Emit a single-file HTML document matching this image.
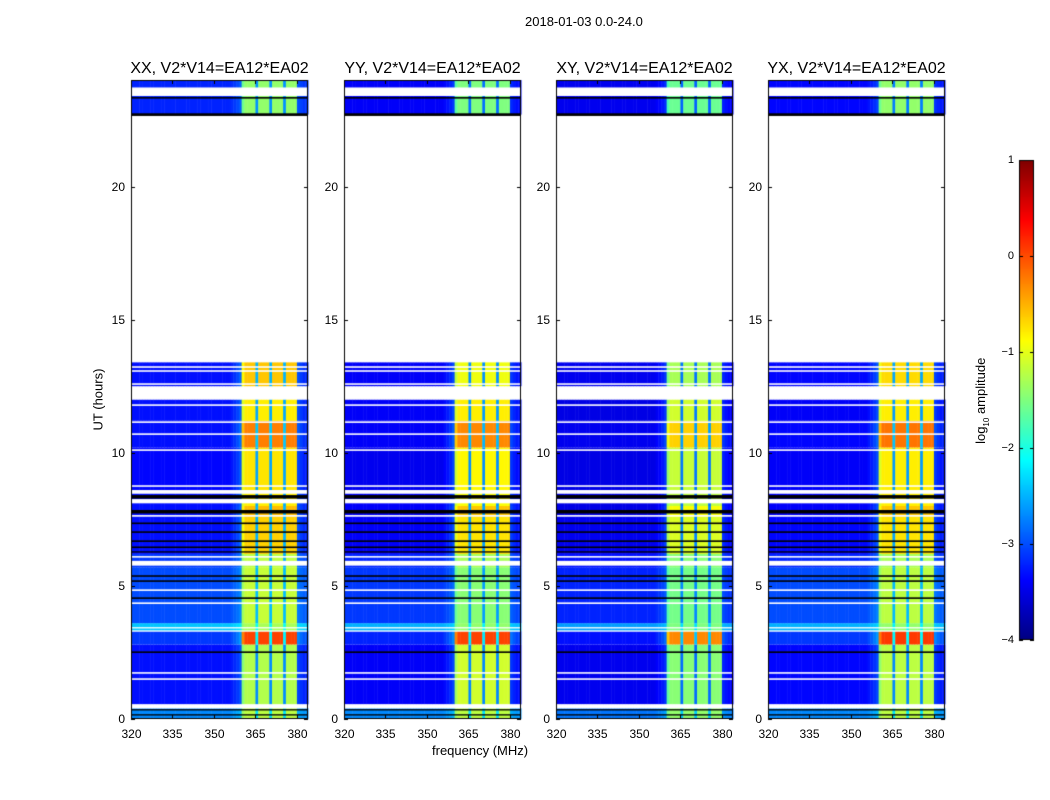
<!DOCTYPE html>
<html><head><meta charset="utf-8">
<style>
body{margin:0;background:#fff;width:1050px;height:800px;position:relative;font-family:"Liberation Sans","DejaVu Sans",sans-serif;overflow:hidden}
.t{position:absolute;white-space:nowrap;color:#000}
canvas{position:absolute;left:0;top:0}
</style></head><body>
<canvas id="c" width="1050" height="800"></canvas>
<div class="t" style="left:525px;top:14px;font-size:13px">2018-01-03 0.0-24.0</div>
<div class="t" style="left:432px;top:743px;font-size:13px">frequency (MHz)</div>
<div class="t" style="left:58px;top:392px;font-size:13px;transform:rotate(-90deg);width:80px;text-align:center">UT (hours)</div>
<div class="t" style="left:932px;top:392px;font-size:13px;transform:rotate(-90deg);width:100px;text-align:center">log<sub style="font-size:8px">10</sub> amplitude</div>
<div id="labels"></div>
<script>
// ---- data ----
const panelNames = ["XX, V2*V14=EA12*EA02","YY, V2*V14=EA12*EA02","XY, V2*V14=EA12*EA02","YX, V2*V14=EA12*EA02"];
const freqStart = 320, freqStep = 1;
// in-band weighting per 1 MHz channel (320..383)
const bandProfile = [0,0,0,0,0,0,0,0,0,0, 0,0,0,0,0,0,0,0,0,0, 0,0,0,0,0,0,0,0,0,0, 0,0,0,0,0,0,0.03,0.06,0.1,0.15,
  0.9,1,1,1,1,0.3,1,1,1,1, 0.3,1,1,1,1,0.3,1,1,1,1, 0.12,0.08,0.05,0.05];
// time blocks [startHour, endHour]
const blockStart = [0, 0.55, 2.8, 3.3, 3.6, 5.7, 6.2, 7.6, 8.0, 8.6, 10.2, 11.2, 12.5, 22.7];
const blockEnd   = [0.4, 2.8, 3.3, 3.6, 5.7, 6.2, 7.6, 8.0, 8.6, 10.2, 11.2, 12.0, 13.4, 24];
const bgXX = [-2.7,-3.3,-3.1,-2.4,-3.0,-3.1,-3.3,-3.3,-3.3,-3.35,-3.3,-3.3,-3.3,-3.2];
const bgYY = [-2.7,-3.4,-3.2,-2.5,-3.1,-3.2,-3.4,-3.4,-3.4,-3.45,-3.4,-3.4,-3.4,-3.4];
const bgXY = [-2.8,-3.45,-3.3,-2.6,-3.2,-3.3,-3.45,-3.5,-3.5,-3.5,-3.45,-3.5,-3.45,-3.45];
const bgYX = [-2.7,-3.35,-3.1,-2.5,-3.0,-3.2,-3.35,-3.4,-3.4,-3.4,-3.35,-3.4,-3.35,-3.35];
const bandXX = [-1.2,-1.25,0.05,-1.3,-1.15,-1.2,-0.65,-0.55,-0.8,-0.75,-0.25,-0.8,-0.6,-1.4];
const bandYY = [-1.2,-1.1,0.05,-1.4,-1.45,-1.3,-0.75,-0.6,-0.9,-0.85,-0.3,-0.8,-0.95,-1.5];
const bandXY = [-1.4,-1.45,-0.3,-1.5,-1.55,-1.45,-1.05,-0.9,-1.2,-1.15,-0.65,-1.1,-1.3,-1.6];
const bandYX = [-1.2,-1.2,0.1,-1.4,-1.2,-1.3,-0.75,-0.6,-0.8,-0.8,-0.2,-0.8,-0.7,-1.4];
// flagged rows (hours)
const whiteStart = [0.4,1.47,1.7,3.28,3.4,4.32,4.81,5.76,6.06,7.6,8.1,8.46,8.72,10.07,10.67,11.12,11.76,12.0,12.55,13.04,13.19,13.4,23.4];
const whiteEnd   = [0.55,1.53,1.76,3.33,3.45,4.38,4.87,5.94,6.12,7.66,8.26,8.6,8.78,10.13,10.73,11.18,11.82,12.3,12.61,13.1,13.25,22.7,23.72];
const blackStart = [0.13,0.32,2.48,4.51,5.15,5.34,6.25,6.42,6.65,6.99,7.32,7.72,8.28,22.65,23.3];
const blackEnd   = [0.18,0.37,2.54,4.57,5.21,5.4,6.3,6.48,6.71,7.05,7.38,7.85,8.41,22.75,23.36];
const xTicks = [320,335,350,365,380];
const yTicks = [0,5,10,15,20];
const cbTicks = [-4,-3,-2,-1,0,1];

const bgs=[bgXX,bgYY,bgXY,bgYX], bands=[bandXX,bandYY,bandXY,bandYX];
const panelLeft=[131,344,556,768], PW=177, PT=80, PB=719;
const fMin=320,fMax=384,hMin=0,hMax=24;
function xScale(p,f){return panelLeft[p]+(f-fMin)/(fMax-fMin)*PW;}
function yScale(h){return PB-(h-hMin)/(hMax-hMin)*(PB-PT);}
function jet(v){let t=(v+4)/5;t=Math.max(0,Math.min(1,t));
 const r=Math.max(0,Math.min(1,1.5-Math.abs(4*t-3))),g=Math.max(0,Math.min(1,1.5-Math.abs(4*t-2))),b=Math.max(0,Math.min(1,1.5-Math.abs(4*t-1)));
 return `rgb(${r*255|0},${g*255|0},${b*255|0})`;}
const ctx=document.getElementById('c').getContext('2d');
const lab=document.getElementById('labels');
function addLabel(txt,x,y,size,align,name){const d=document.createElement('div');d.className='t';d.textContent=txt;
 d.style.fontSize=size+'px';d.style.top=(y-size*0.6)+'px';
 if(align==='c'){d.style.left=(x-100)+'px';d.style.width='200px';d.style.textAlign='center';}
 else if(align==='r'){d.style.left=(x-60)+'px';d.style.width='60px';d.style.textAlign='right';}
 else d.style.left=x+'px';
 
 
 lab.appendChild(d);}
for(let p=0;p<4;p++){
 const L=panelLeft[p],R=L+PW;
 for(let b=0;b<blockStart.length;b++){
  const y0=yScale(blockEnd[b]),y1=yScale(blockStart[b]);
  for(let c=0;c<bandProfile.length;c++){
   const f=freqStart+c*freqStep;
   const v=bgs[p][b]+bandProfile[c]*(bands[p][b]-bgs[p][b]);
   ctx.fillStyle=jet(v);
   const x0=xScale(p,f),x1=xScale(p,f+freqStep);
   ctx.fillRect(x0,y0,x1-x0+0.5,y1-y0);
  }
 }
 ctx.fillStyle='#fff';
 for(let i=0;i<whiteStart.length;i++){const y0=yScale(whiteEnd[i]),y1=yScale(whiteStart[i]);ctx.fillRect(L,y0,PW,Math.max(1.2,y1-y0));}
 ctx.fillStyle='#000';
 for(let i=0;i<blackStart.length;i++){const y0=yScale(blackEnd[i]),y1=yScale(blackStart[i]);ctx.fillRect(L,y0,PW,Math.max(1,y1-y0));}
 ctx.strokeStyle='#000';ctx.lineWidth=1;ctx.strokeRect(L+0.5,PT+0.5,PW-1,PB-PT-1);
 ctx.beginPath();
 xTicks.forEach(t=>{const x=Math.round(xScale(p,t))+0.5;ctx.moveTo(x,PB);ctx.lineTo(x,PB-4);ctx.moveTo(x,PT);ctx.lineTo(x,PT+4);
   addLabel(String(t),x,PB+15,12,'c','x-tick-label');});
 yTicks.forEach(t=>{const y=Math.round(yScale(t))+0.5;ctx.moveTo(L,y);ctx.lineTo(L+4,y);ctx.moveTo(R,y);ctx.lineTo(R-4,y);
   addLabel(String(t),L-6,y,12,'r','y-tick-label');});
 ctx.stroke();
 addLabel(panelNames[p],L+PW/2,PT-10,16,'c','panel-title');
}
// colorbar
const cbL=1019,cbW=15,cbT=160,cbB=640;
for(let y=cbT;y<cbB;y++){const v=1-(y-cbT)/(cbB-cbT)*5;ctx.fillStyle=jet(v);ctx.fillRect(cbL,y,cbW,1);}
ctx.strokeRect(cbL+0.5,cbT+0.5,cbW-1,cbB-cbT-1);
ctx.beginPath();
cbTicks.forEach(t=>{const y=Math.round(cbB-(t+4)/5*(cbB-cbT))+0.5;ctx.moveTo(cbL,y);ctx.lineTo(cbL+4,y);ctx.moveTo(cbL+cbW,y);ctx.lineTo(cbL+cbW-4,y);
 addLabel(t<0?'\u2212'+(-t):String(t),1014,y,11,'r','colorbar-tick-label');});
ctx.stroke();
</script>
</body></html>
